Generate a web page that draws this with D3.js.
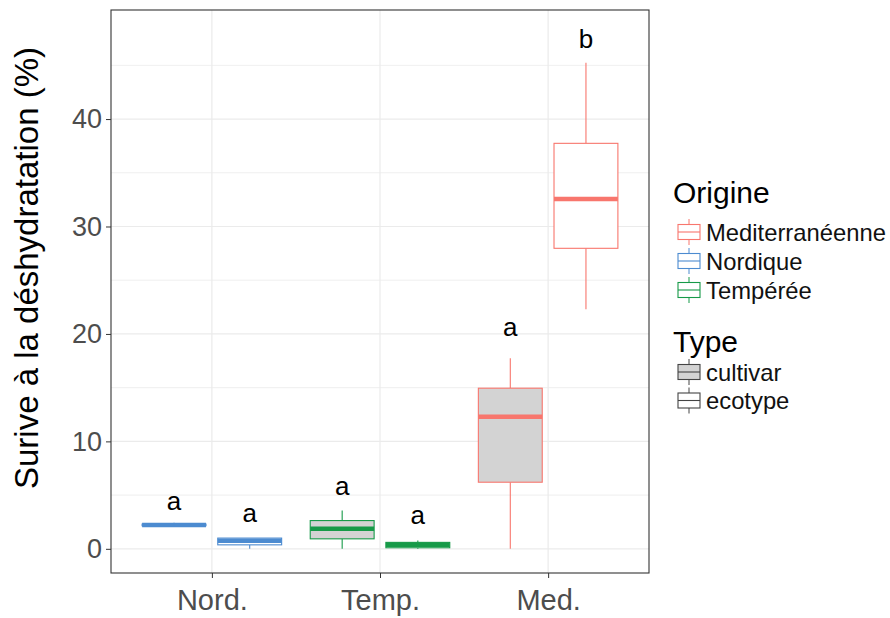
<!DOCTYPE html>
<html><head><meta charset="utf-8">
<script src="https://cdn.jsdelivr.net/npm/d3@7"></script>
<style>body{margin:0;background:#fff}svg{display:block;font-family:"Liberation Sans",Arial,sans-serif}</style>
</head><body><svg id="c" width="890" height="618"></svg>
<script>
const categories = ["Nord.", "Temp.", "Med."];
const types = ["cultivar", "ecotype"];
const origins = ["Mediterranéenne", "Nordique", "Tempérée"];
const originColors = ["#F8766D", "#4C8BD0", "#169A48"];
const typeFills = ["#D3D3D3", "#FFFFFF"];
// boxes: category, type, origin index
const boxCat    = ["Nord.", "Nord.", "Temp.", "Temp.", "Med.", "Med."];
const boxType   = ["cultivar", "ecotype", "cultivar", "ecotype", "cultivar", "ecotype"];
const boxOrigin = [1, 1, 2, 2, 0, 0];
const lowerW = [2.15, 0.0, 0.0, 0.0, 0.0, 22.3];
const q1     = [2.15, 0.37, 0.93, 0.1, 6.2, 27.97];
const median = [2.22, 0.74, 1.86, 0.37, 12.3, 32.56];
const q3     = [2.3, 1.0, 2.63, 0.6, 14.95, 37.74];
const upperW = [2.42, 1.0, 3.56, 0.77, 17.74, 45.24];
const letters  = ["a", "a", "a", "a", "a", "b"];
const letterY  = [4.28, 3.16, 5.67, 3.0, 20.5, 47.3];
const yTicks = [0, 10, 20, 30, 40];
const yMinor = [5, 15, 25, 35, 45];

const svg = d3.select("#c");
const L = 111, R = 649, T = 10, B = 573;
const x = d3.scalePoint().domain(categories).range([L, R]).padding(0.6);
const step = x.step();
const dodge = d3.scaleBand().domain(types).range([-0.45 * step, 0.45 * step]);
const boxW = 0.38 * step;
const y = d3.scaleLinear().domain([-2.25, 50.15]).range([B, T]);

// grid
const g = svg.append("g");
g.selectAll(".mn").data(yMinor).join("line").attr("x1", L).attr("x2", R)
  .attr("y1", d => y(d)).attr("y2", d => y(d)).attr("stroke", "#EBEBEB").attr("stroke-width", 0.8);
g.selectAll(".mj").data(yTicks).join("line").attr("x1", L).attr("x2", R)
  .attr("y1", d => y(d)).attr("y2", d => y(d)).attr("stroke", "#EBEBEB").attr("stroke-width", 1.2);
g.selectAll(".vx").data(categories).join("line").attr("y1", T).attr("y2", B)
  .attr("x1", d => x(d)).attr("x2", d => x(d)).attr("stroke", "#EBEBEB").attr("stroke-width", 1.2);

// boxes
const idx = d3.range(boxCat.length);
const cx = i => x(boxCat[i]) + dodge(boxType[i]) + dodge.bandwidth() / 2;
const bx = svg.append("g");
idx.forEach(i => {
  const col = originColors[boxOrigin[i]];
  const c = cx(i);
  const gg = bx.append("g");
  gg.append("line").attr("x1", c).attr("x2", c).attr("y1", y(upperW[i])).attr("y2", y(q3[i])).attr("stroke", col).attr("stroke-width", 1.1);
  gg.append("line").attr("x1", c).attr("x2", c).attr("y1", y(q1[i])).attr("y2", y(lowerW[i])).attr("stroke", col).attr("stroke-width", 1.1);
  gg.append("rect").attr("x", c - boxW / 2).attr("width", boxW)
    .attr("y", y(q3[i])).attr("height", Math.max(0.01, y(q1[i]) - y(q3[i])))
    .attr("fill", typeFills[types.indexOf(boxType[i])]).attr("stroke", col).attr("stroke-width", 1.1);
  gg.append("line").attr("x1", c - boxW / 2).attr("x2", c + boxW / 2).attr("y1", y(median[i])).attr("y2", y(median[i]))
    .attr("stroke", col).attr("stroke-width", 4.5);
});

// letters
svg.append("g").selectAll("text").data(idx).join("text")
  .attr("x", i => cx(i)).attr("y", i => y(letterY[i]))
  .attr("dy", "0.27em").attr("text-anchor", "middle").attr("font-size", 26).attr("fill", "#000")
  .text(i => letters[i]);

// panel border
svg.append("rect").attr("x", L).attr("y", T).attr("width", R - L).attr("height", B - T)
  .attr("fill", "none").attr("stroke", "#333333").attr("stroke-width", 1.1);

// axes
const ya = svg.append("g").attr("transform", `translate(${L},0)`)
  .call(d3.axisLeft(y).tickValues(yTicks).tickSize(5).tickPadding(4).tickFormat(d3.format("d")));
ya.select(".domain").remove();
ya.selectAll("line").attr("stroke", "#333333");
ya.selectAll("text").attr("font-size", 27).attr("fill", "#4D4D4D").attr("font-family", "Liberation Sans, Arial, sans-serif");

const xa = svg.append("g").attr("transform", `translate(0,${B})`)
  .call(d3.axisBottom(x).tickSize(5).tickPadding(9));
xa.select(".domain").remove();
xa.selectAll("line").attr("stroke", "#333333");
xa.selectAll("text").attr("font-size", 29).attr("fill", "#4D4D4D").attr("font-family", "Liberation Sans, Arial, sans-serif").attr("dy", "0.78em");

svg.append("text").attr("transform", `translate(38,268) rotate(-90)`)
  .attr("text-anchor", "middle").attr("font-size", 33).attr("fill", "#000")
  .text("Surive à la déshydratation (%)");

// legend
const lg = svg.append("g");
const keyX = 678, keyW = 22, keyH = 15;
function key(yc, stroke, fill) {
  lg.append("line").attr("x1", keyX + keyW / 2).attr("x2", keyX + keyW / 2).attr("y1", yc - 13).attr("y2", yc + 13).attr("stroke", stroke).attr("stroke-width", 1);
  lg.append("rect").attr("x", keyX).attr("y", yc - keyH / 2).attr("width", keyW).attr("height", keyH).attr("fill", fill).attr("stroke", stroke).attr("stroke-width", 1.1);
  lg.append("line").attr("x1", keyX).attr("x2", keyX + keyW).attr("y1", yc).attr("y2", yc).attr("stroke", stroke).attr("stroke-width", 1.1);
}
lg.append("text").attr("x", 673).attr("y", 203).attr("font-size", 30).text("Origine");
origins.forEach((o, i) => {
  const yc = 232 + i * 29;
  key(yc, originColors[i], "#FFFFFF");
  lg.append("text").attr("x", 706).attr("y", yc + 8.5).attr("font-size", 23.8).attr("fill", "#111").text(o);
});
lg.append("text").attr("x", 673).attr("y", 352).attr("font-size", 30).text("Type");
types.forEach((t, i) => {
  const yc = 372 + i * 28.5;
  key(yc, "#444444", typeFills[i]);
  lg.append("text").attr("x", 706).attr("y", yc + 8.5).attr("font-size", 23.8).attr("fill", "#111").text(t);
});
</script></body></html>
